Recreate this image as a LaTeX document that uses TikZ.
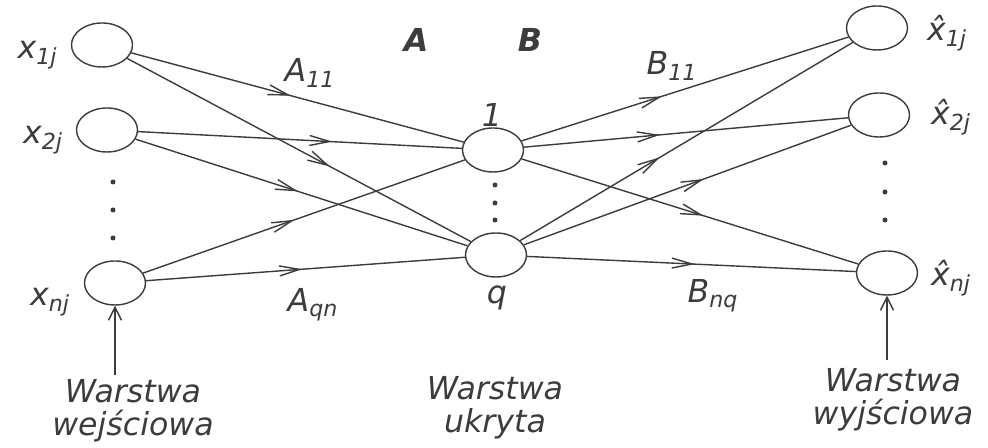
\documentclass[tikz,border=0pt]{standalone}
\usepackage{fontspec}
\setmainfont{DejaVu Sans}
\usepackage{tikz}
\usetikzlibrary{shapes.geometric,arrows.meta,decorations.markings,positioning}
\definecolor{ink}{RGB}{60,60,60}
\newcommand{\inx}[1]{x\textsubscript{#1}}
\newcommand{\outx}[1]{\^{x}\textsubscript{#1}}
\tikzset{
  neuron/.style={ellipse,draw,minimum width=1.22cm,minimum height=0.88cm,inner sep=0pt},
  lbl/.style={font=\fontsize{18}{19}\selectfont\itshape,inner sep=1pt},
  wire/.style={postaction={decorate},decoration={markings,mark=at position #1 with {\arrow{Straight Barb[length=4mm,width=2mm]}}}},
  rise/.style={-{Straight Barb[length=2.6mm,width=2.6mm]}}
}

\begin{document}
\begin{tikzpicture}[line width=0.8pt,color=ink]
  \useasboundingbox (0,0) rectangle (19.76,8.96);
  % input layer
  \node[neuron] (in1) at (2.04,8.06) {};
  \node[neuron] (in2) at (2.14,6.36) {};
  \node[neuron] (inn) at (2.30,3.30) {};
  \node[lbl] (in1lab) at (0.75,7.86) {\inx{1j}};
  \node[lbl] (in2lab) at (0.86,6.16) {\inx{2j}};
  \node[lbl] (innlab) at (1.00,2.92) {\inx{nj}};
  \fill (2.26,5.32) circle (0.05) (2.26,4.76) circle (0.05) (2.26,4.20) circle (0.05);
  % hidden layer
  \node[neuron] (h1) at (9.86,5.96) {};
  \node[neuron] (hq) at (9.92,3.86) {};
  \node[lbl] (h1lab) at (9.84,6.66) {1};
  \node[lbl] (hqlab) at (9.94,3.00) {q};
  \fill (9.9,5.26) circle (0.05) (9.9,4.9) circle (0.05) (9.9,4.56) circle (0.05);
  % output layer
  \node[neuron] (out1) at (17.54,8.40) {};
  \node[neuron] (out2) at (17.58,6.66) {};
  \node[neuron] (outn) at (17.74,3.50) {};
  \node[lbl] (out1lab) at (18.94,8.30) {\outx{1j}};
  \node[lbl] (out2lab) at (19.02,6.62) {\outx{2j}};
  \node[lbl] (outnlab) at (19.02,3.40) {\outx{nj}};
  \fill (17.7,5.70) circle (0.05) (17.7,5.12) circle (0.05) (17.7,4.56) circle (0.05);
  % weights A
  \draw[wire=0.48] (in1) -- (h1);
  \draw[wire=0.59] (in1) -- (hq);
  \draw[wire=0.60] (in2) -- (h1);
  \draw[wire=0.49] (in2) -- (hq);
  \draw[wire=0.47] (inn) -- (h1);
  \draw[wire=0.49] (inn) -- (hq);
  % weights B
  \draw[wire=0.43] (h1) -- (out1);
  \draw[wire=0.42] (h1) -- (out2);
  \draw[wire=0.54] (h1) -- (outn);
  \draw[wire=0.42] (hq) -- (out1);
  \draw[wire=0.55] (hq) -- (out2);
  \draw[wire=0.51] (hq) -- (outn);
  \node[lbl] (a11) at (6.20,7.50) {A\textsubscript{11}};
  \node[lbl] (aqn) at (6.26,2.86) {A\textsubscript{qn}};
  \node[lbl] (b11) at (13.44,7.64) {B\textsubscript{11}};
  \node[lbl] (bnq) at (14.26,3.04) {B\textsubscript{nq}};
  \node[lbl,font=\fontsize{18}{19}\selectfont\itshape\bfseries] (amat) at (8.32,8.16) {A};
  \node[lbl,font=\fontsize{18}{19}\selectfont\itshape\bfseries] (bmat) at (10.60,8.16) {B};
  % layer names
  \node[lbl,align=center] (inname) at (2.66,0.74) {Warstwa\\wejściowa};
  \node[lbl,align=center] (hname) at (9.90,0.80) {Warstwa\\ukryta};
  \node[lbl,align=center] (outname) at (17.86,0.96) {Warstwa\\wyjściowa};
  \coordinate (inbase) at (2.30,1.46);
  \coordinate (outbase) at (17.74,1.76);
  \draw[rise] (inbase) -- (inn);
  \draw[rise] (outbase) -- (outn);
\end{tikzpicture}
\end{document}
